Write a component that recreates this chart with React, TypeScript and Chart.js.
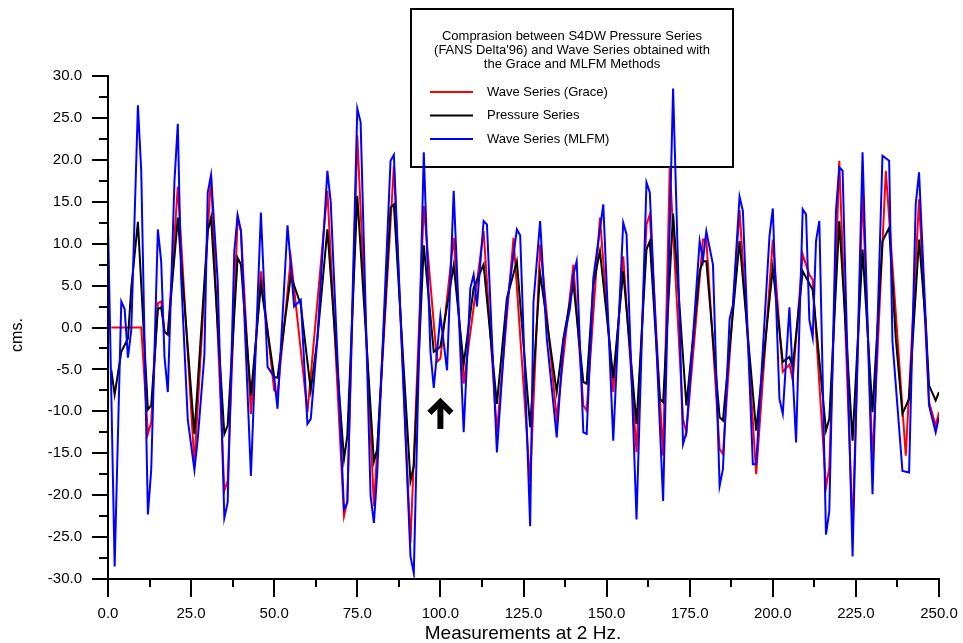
import React, { useEffect, useRef } from "react";
import { Chart, registerables } from "chart.js";

Chart.register(...registerables);

// Wave series reconstructed with the Grace method (x = measurement index)
const graceX = [1, 10, 12, 13, 15, 16, 17, 18, 21, 26, 31, 35, 36, 39, 40, 43, 46, 50, 51, 55, 60, 66, 71, 72, 75, 80, 86, 91, 95, 99, 100, 104, 107, 113, 117, 122, 127, 130, 135, 140, 143, 144, 148, 152, 155, 159, 162, 163, 167, 169, 173, 174, 179, 180, 184, 185, 190, 195, 200, 203, 205, 206, 209, 211, 212, 216, 217, 220, 224, 227, 230, 234, 240, 244, 247, 249, 250];
const graceY = [0, 0, -12.7, -11.3, 2.9, 3.1, -0.5, -0.9, 16.8, -16.3, 18.2, -19.5, -18.3, 13.1, 11.5, -10.3, 6.7, -7.5, -7.9, 8.3, -10.1, 16.3, -22.5, -20.7, 22.9, -21.3, 19.3, -25.7, 14.5, -4.1, -3.7, 10.7, -6.7, 11.5, -12.5, 10.7, -18.5, 9.9, -10.9, 7.5, -9.3, -9.9, 13.1, -7.7, 8.5, -14.9, 12.3, 13.5, -15.3, 19.1, -10.9, -12.5, 10.5, 10.5, -14.5, -15.1, 14, -17.5, 10.5, -5.3, -4.4, -6.3, 8.7, 6.3, 5.7, -19.1, -16.7, 19.9, -24, 16.3, -15.9, 18.7, -15.3, 15.3, -8.9, -11.7, -10.1];

// S4DW pressure series
const pressureX = [1, 2, 4, 6, 7, 9, 12, 13, 15, 16, 17, 18, 21, 26, 30, 31, 35, 36, 39, 40, 43, 46, 50, 51, 55, 58, 61, 63, 66, 71, 72, 75, 80, 81, 85, 86, 91, 92, 95, 98, 100, 104, 107, 110, 113, 117, 120, 123, 127, 130, 135, 137, 140, 143, 144, 146, 148, 152, 155, 159, 162, 163, 166, 167, 170, 174, 178, 179, 180, 184, 185, 190, 195, 200, 203, 205, 206, 209, 212, 216, 217, 220, 224, 227, 230, 233, 235, 237, 239, 241, 244, 246, 247, 249, 250];
const pressureY = [-5.1, -8, -2.9, -1.3, 4.7, 12.6, -9.8, -9.3, 2.2, 2.4, -0.5, -0.8, 13.1, -12.7, 11.5, 13.1, -12.7, -11.7, 8.3, 7.5, -8.1, 5.1, -5.9, -6, 6.2, 2.7, -7.5, -1.3, 11.7, -15.7, -12.9, 15.7, -16, -14.5, 14.3, 14.7, -18.3, -16.5, 9.8, -2.9, -2.3, 7.4, -4.4, 4.7, 7.5, -9.1, 3.5, 7.9, -11.9, 6.5, -7.7, -1.3, 5.3, -6.5, -6.7, 5.1, 9.1, -6, 6.7, -11.5, 9.3, 10.3, -8.5, -8.9, 13.6, -9.3, 6.7, 7.9, 7.9, -10.7, -11.1, 10.3, -12.3, 7.1, -4.1, -3.5, -4.7, 6.7, 4.5, -12.3, -10.9, 12.7, -13.5, 9.3, -10.1, 10.3, 11.9, -1.3, -10.3, -8.5, 10.5, 0.5, -6.9, -8.7, -7.7];

// Wave series reconstructed with the MLFM method
const mlfmX = [0, 2, 4, 5, 6, 7, 9, 10, 12, 13, 15, 16, 17, 18, 20, 21, 22, 24, 26, 27, 29, 30, 31, 33, 35, 36, 38, 39, 40, 43, 46, 48, 50, 51, 54, 56, 58, 60, 61, 63, 66, 67, 71, 72, 75, 76, 79, 80, 81, 85, 86, 91, 92, 95, 97, 98, 100, 102, 104, 107, 109, 110, 111, 113, 114, 117, 120, 123, 124, 127, 128, 130, 132, 135, 137, 139, 140, 141, 143, 144, 146, 149, 152, 155, 156, 159, 162, 163, 167, 170, 173, 174, 178, 179, 180, 182, 184, 185, 187, 188, 190, 191, 194, 195, 199, 200, 202, 203, 205, 207, 209, 210, 211, 212, 213, 214, 216, 217, 219, 220, 221, 224, 227, 230, 233, 235, 236, 239, 241, 243, 244, 246, 247, 249, 250];
const mlfmY = [12.5, -28.5, 3.1, 2.2, -3.6, -0.3, 26.5, 18.7, -22.3, -17, 11.7, 7.9, -3.5, -7.7, 17.5, 24.3, 6, -11, -17, -13.3, -3.3, 16.1, 18.2, 5.5, -22.7, -20.9, 9.1, 13.4, 11.5, -17.7, 13.7, -4.7, -5.9, -9.7, 12.2, 2.5, 3.3, -11.5, -10.9, -1.3, 18.7, 15, -21.7, -20.9, 26.1, 24.5, -20.1, -23.3, -17.3, 19.9, 20.6, -27.3, -29.3, 20.9, -2.9, -7.2, 1.4, -5.1, 16.3, -12.5, 4.7, 6.3, 2.5, 12.7, 12.3, -14.9, 2.7, 11.7, 11, -23.7, 3, 12.7, -1.3, -13.1, -1.7, 2.3, 6.3, 7.9, -12.5, -12.7, 5.9, 14.7, -13.5, 12.5, 11.1, -22.9, 17.3, 16.1, -20.7, 28.5, -13.9, -12.5, 10.3, 8.1, 11.5, 7.5, -18.9, -16.9, 1, 2.7, 15.6, 13.9, -16.3, -16.3, 10.9, 14.2, -8.5, -10.3, 2.4, -13.7, 14.1, 13.5, 0.9, -1.2, 10.3, 12.7, -24.7, -21.9, 13.9, 19.1, 18.7, -27.3, 20.9, -19.9, 20.5, 19.9, -1.7, -17.1, -17.3, 14.7, 18.5, 0.9, -9.3, -12.5, -10.7];

// Axis ranges and tick spacing
const xRange = [0, 250];
const yRange = [-30, 30];
const xMajorStep = 25;
const yMajorStep = 5;

// Text
const legendTitle = [
  "Comprasion between S4DW Pressure Series",
  "(FANS Delta'96) and Wave Series obtained with",
  "the Grace and MLFM Methods",
];
const seriesNames = ["Wave Series (Grace)", "Pressure Series", "Wave Series (MLFM)"];
const seriesColors = ["#ff0000", "#000000", "#0000ff"];
const xTitle = "Measurements at 2 Hz.";
const yTitle = "cms.";

// Arrow marking the sample of interest
const arrowAt = { x: 100, tip: -8.4, tail: -12.1 };

const toPoints = (xs: number[], ys: number[]) => xs.map((x, i) => ({ x, y: ys[i] }));

const SANS = "'Liberation Sans', Arial, sans-serif";

const decorations = {
  id: "decorations",
  beforeDatasetsDraw(chart: any) {
    const ctx = chart.ctx as CanvasRenderingContext2D;
    ctx.save();
    // legend frame
    ctx.strokeStyle = "#000";
    ctx.lineWidth = 2;
    ctx.strokeRect(411, 9, 322, 158);
    ctx.fillStyle = "#000";
    ctx.font = `13px ${SANS}`;
    ctx.textAlign = "center";
    ctx.textBaseline = "middle";
    legendTitle.forEach((t, i) => ctx.fillText(t, 572, 36 + i * 14));
    ctx.textAlign = "left";
    seriesNames.forEach((name, i) => {
      const y = 92 + i * 23.5;
      ctx.strokeStyle = seriesColors[i];
      ctx.lineWidth = 2;
      ctx.beginPath();
      ctx.moveTo(430, y);
      ctx.lineTo(473, y);
      ctx.stroke();
      ctx.fillText(name, 487, y);
    });
    ctx.restore();
  },
  afterDraw(chart: any) {
    const ctx = chart.ctx as CanvasRenderingContext2D;
    const a = chart.chartArea;
    const xs = chart.scales.x;
    const ys = chart.scales.y;
    ctx.save();
    ctx.strokeStyle = "#000";
    ctx.lineWidth = 2;
    ctx.beginPath();
    ctx.moveTo(a.left, a.top - 1);
    ctx.lineTo(a.left, a.bottom);
    ctx.lineTo(a.right + 1, a.bottom);
    // y ticks: major every 5, minor halfway
    for (let v = yRange[0]; v <= yRange[1]; v += yMajorStep / 2) {
      const y = Math.round(ys.getPixelForValue(v));
      const len = v % yMajorStep === 0 ? 16 : 9;
      ctx.moveTo(a.left - len, y);
      ctx.lineTo(a.left, y);
    }
    // x ticks: major every 25, minor halfway
    for (let v = xRange[0]; v <= xRange[1]; v += xMajorStep / 2) {
      const x = Math.round(xs.getPixelForValue(v));
      const len = v % xMajorStep === 0 ? 18 : 8;
      ctx.moveTo(x, a.bottom);
      ctx.lineTo(x, a.bottom + len);
    }
    ctx.stroke();

    // arrow
    const ax = xs.getPixelForValue(arrowAt.x);
    const tipY = ys.getPixelForValue(arrowAt.tip);
    const tailY = ys.getPixelForValue(arrowAt.tail);
    ctx.lineWidth = 6;
    ctx.lineJoin = "miter";
    ctx.beginPath();
    ctx.moveTo(ax, tailY);
    ctx.lineTo(ax, tipY + 3);
    ctx.stroke();
    ctx.beginPath();
    ctx.moveTo(ax - 11, tipY + 15);
    ctx.lineTo(ax, tipY + 4);
    ctx.lineTo(ax + 11, tipY + 15);
    ctx.stroke();

    // axis titles
    ctx.fillStyle = "#000";
    ctx.textAlign = "center";
    ctx.textBaseline = "alphabetic";
    ctx.font = `19px ${SANS}`;
    ctx.fillText(xTitle, 523, 639);
    ctx.textBaseline = "middle";
    ctx.translate(18, 335);
    ctx.rotate(-Math.PI / 2);
    ctx.font = `16px ${SANS}`;
    ctx.fillText(yTitle, 0, 0);
    ctx.restore();
  },
};

export default function App() {
  const canvasRef = useRef<HTMLCanvasElement | null>(null);

  useEffect(() => {
    const canvas = canvasRef.current;
    if (!canvas) return;
    const chart = new Chart(canvas, {
      type: "line",
      data: {
        datasets: [
          { label: seriesNames[2], data: toPoints(mlfmX, mlfmY), borderColor: seriesColors[2], order: 0 },
          { label: seriesNames[1], data: toPoints(pressureX, pressureY), borderColor: seriesColors[1], order: 1 },
          { label: seriesNames[0], data: toPoints(graceX, graceY), borderColor: seriesColors[0], order: 2 },
        ],
      },
      options: {
        responsive: false,
        animation: false,
        devicePixelRatio: 1,
        events: [],
        elements: {
          point: { radius: 0 },
          line: { borderWidth: 2, tension: 0, fill: false },
        },
        layout: { padding: { top: 76, right: 24, left: 0, bottom: 0 } },
        plugins: { legend: { display: false }, tooltip: { enabled: false } },
        scales: {
          x: {
            type: "linear",
            min: xRange[0],
            max: xRange[1],
            grid: { display: false, drawTicks: false },
            border: { display: false },
            afterFit: (s: any) => {
              s.height = 64;
              s.paddingLeft = 0;
              s.paddingRight = 0;
            },
            ticks: {
              stepSize: xMajorStep,
              autoSkip: false,
              maxRotation: 0,
              padding: 26,
              color: "#000",
              font: { family: SANS, size: 15 },
              callback: (v: any) => Number(v).toFixed(1),
            },
          },
          y: {
            type: "linear",
            min: yRange[0],
            max: yRange[1],
            grid: { display: false, drawTicks: false },
            border: { display: false },
            afterFit: (s: any) => {
              s.width = 108;
              s.paddingTop = 0;
              s.paddingBottom = 0;
            },
            ticks: {
              stepSize: yMajorStep,
              padding: 26,
              color: "#000",
              font: { family: SANS, size: 15 },
              callback: (v: any) => Number(v).toFixed(1),
            },
          },
        },
      },
      plugins: [decorations],
    });
    return () => chart.destroy();
  }, []);

  return (
    <div style={{ position: "absolute", left: 0, top: 0, width: 963, height: 643, background: "#fff" }}>
      <canvas ref={canvasRef} width={963} height={643} />
    </div>
  );
}
